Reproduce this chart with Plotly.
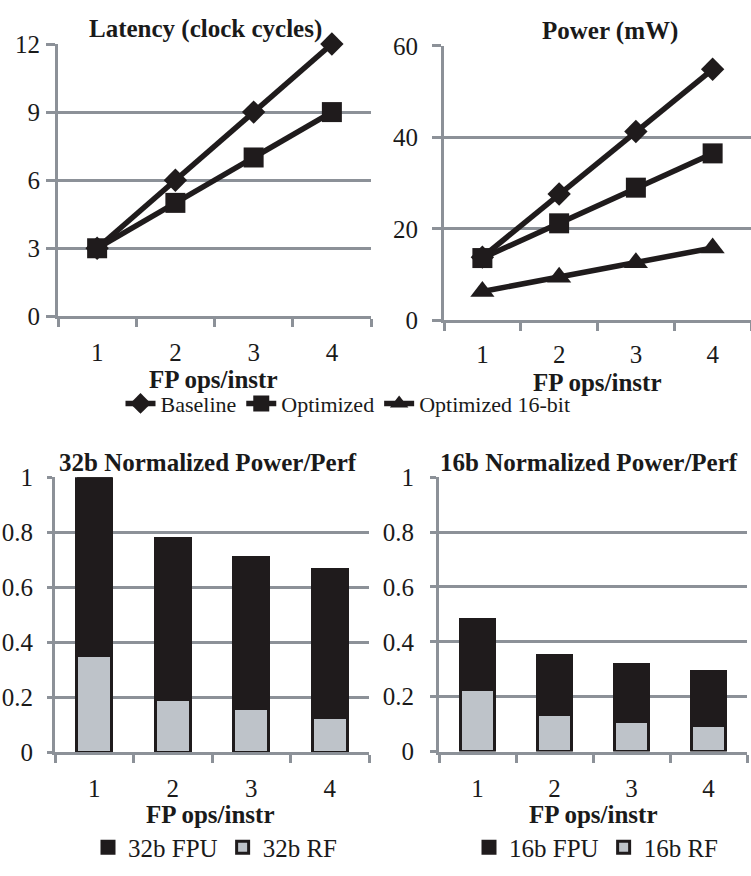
import plotly.graph_objects as go

# ---------------- data ----------------
categories = ["1", "2", "3", "4"]

latency_baseline = [3, 6, 9, 12]
latency_optimized = [3, 5, 7, 9]

power_baseline = [13.8, 27.6, 41.3, 54.9]
power_optimized = [13.6, 21.2, 29.0, 36.5]
power_opt16 = [6.3, 9.4, 12.6, 15.8]

rf32 = [0.352, 0.192, 0.158, 0.127]
total32 = [1.0, 0.778, 0.708, 0.665]
rf16 = [0.226, 0.134, 0.110, 0.095]
total16 = [0.48, 0.35, 0.318, 0.29]

fpu32 = [t - r for t, r in zip(total32, rf32)]
fpu16 = [t - r for t, r in zip(total16, rf16)]

latency_ticks = [0, 3, 6, 9, 12]
power_ticks = [0, 20, 40, 60]
norm_ticks = [0, 0.2, 0.4, 0.6, 0.8, 1]
norm_ticktext = ["0", "0.2", "0.4", "0.6", "0.8", "1"]

# ---------------- style ----------------
W, H = 751, 876
FONT = "Liberation Serif"
TXT = "#1a1a1a"
GRID = "#8c9198"
BLACK = "#1f1b1c"
LIGHT = "#bec3c9"


def py(y):
    return 1 - y / H


def px(x):
    return x / W


fig = go.Figure()

line_kw = dict(mode="lines+markers", line=dict(color=BLACK, width=5.5), cliponaxis=False)

fig.add_trace(go.Scatter(x=categories, y=latency_baseline, name="Baseline",
                         marker=dict(symbol="diamond", size=18, color=BLACK),
                         xaxis="x", yaxis="y", legend="legend", **line_kw))
fig.add_trace(go.Scatter(x=categories, y=latency_optimized, name="Optimized",
                         marker=dict(symbol="square", size=20, color=BLACK),
                         xaxis="x", yaxis="y", legend="legend", **line_kw))
fig.add_trace(go.Scatter(x=categories, y=power_baseline, name="Baseline", showlegend=False,
                         marker=dict(symbol="diamond", size=18, color=BLACK),
                         xaxis="x2", yaxis="y2", **line_kw))
fig.add_trace(go.Scatter(x=categories, y=power_optimized, name="Optimized", showlegend=False,
                         marker=dict(symbol="square", size=20, color=BLACK),
                         xaxis="x2", yaxis="y2", **line_kw))
fig.add_trace(go.Scatter(x=categories, y=power_opt16, name="Optimized 16-bit",
                         marker=dict(symbol="triangle-up", size=21, color=BLACK),
                         xaxis="x2", yaxis="y2", legend="legend", **line_kw))

bar_line = dict(color=BLACK, width=3)
fig.add_trace(go.Bar(x=categories, y=rf32, name="32b RF", marker=dict(color=LIGHT, line=bar_line),
                     xaxis="x3", yaxis="y3", legend="legend2"))
fig.add_trace(go.Bar(x=categories, y=fpu32, name="32b FPU", marker=dict(color=BLACK, line=bar_line),
                     xaxis="x3", yaxis="y3", legend="legend2"))
fig.add_trace(go.Bar(x=categories, y=rf16, name="16b RF", marker=dict(color=LIGHT, line=bar_line),
                     xaxis="x4", yaxis="y4", legend="legend3"))
fig.add_trace(go.Bar(x=categories, y=fpu16, name="16b FPU", marker=dict(color=BLACK, line=bar_line),
                     xaxis="x4", yaxis="y4", legend="legend3"))


def xax(domain, anchor, standoff=12):
    return dict(domain=domain, anchor=anchor, type="category", range=[-0.5, 3.5],
                showgrid=False, zeroline=False, showline=True, linecolor=GRID, linewidth=3,
                ticks="outside", tickson="boundaries", ticklen=8, tickwidth=3, tickcolor=GRID,
                ticklabelstandoff=standoff,
                tickfont=dict(family=FONT, size=25, color=TXT), fixedrange=True)


def yax(domain, anchor, rng, tickvals, ticklen, standoff, ticktext=None):
    d = dict(domain=domain, anchor=anchor, range=rng, tickmode="array", tickvals=tickvals,
             showgrid=True, gridcolor=GRID, gridwidth=3, zeroline=False,
             showline=True, linecolor=GRID, linewidth=3,
             ticks="outside", ticklen=ticklen, tickwidth=3, tickcolor=GRID,
             ticklabelstandoff=standoff,
             tickfont=dict(family=FONT, size=25, color=TXT), fixedrange=True)
    if ticktext is not None:
        d["ticktext"] = ticktext
    return d


legend_common = dict(orientation="h", xanchor="center", yanchor="middle",
                     bgcolor="rgba(0,0,0,0)", traceorder="normal",
                     font=dict(family=FONT, size=22, color=TXT))
legend_bar = {**legend_common, "traceorder": "reversed",
              "font": dict(family=FONT, size=25, color=TXT)}

fig.update_layout(
    width=W, height=H, margin=dict(l=0, r=0, t=0, b=0),
    paper_bgcolor="white", plot_bgcolor="white",
    barmode="stack", bargap=0.55,
    font=dict(family=FONT, color=TXT),
    xaxis=xax([px(58), px(371)], "y"),
    yaxis=yax([py(313), py(32)], "x", [0, 12], latency_ticks, 9, 1),
    xaxis2=xax([px(444), 1.0], "y2", 10),
    yaxis2=yax([py(317), py(34)], "x2", [0, 60], power_ticks, 9, 9),
    xaxis3=xax([px(55), px(369)], "y3"),
    yaxis3=yax([py(763), py(479)], "x3", [0, 1], norm_ticks, 5, 9, norm_ticktext),
    xaxis4=xax([px(439), px(747)], "y4"),
    yaxis4=yax([py(762), py(479)], "x4", [0, 1], norm_ticks, 6, 11, norm_ticktext),
    legend=dict(x=px(348), y=py(403), **legend_common),
    legend2=dict(x=px(215), y=py(861), **legend_bar),
    legend3=dict(x=px(596), y=py(861), **legend_bar),
)

titles = [
    ("Latency (clock cycles)", 205, 17),
    ("Power (mW)", 610, 19),
    ("32b Normalized Power/Perf", 208, 464),
    ("16b Normalized Power/Perf", 589, 464),
]
for text, x, y in titles:
    fig.add_annotation(text=f"<b>{text}</b>", x=px(x), y=py(y), xref="paper", yref="paper",
                       xanchor="center", yanchor="middle", showarrow=False,
                       font=dict(family=FONT, size=25, color=TXT))

axis_titles = [(214, 378), (597, 381), (210, 827), (593, 827)]
for x, y in axis_titles:
    fig.add_annotation(text="<b>FP ops/instr</b>", x=px(x), y=py(y), xref="paper", yref="paper",
                       xanchor="center", yanchor="middle", showarrow=False,
                       font=dict(family=FONT, size=25, color=TXT))

fig.write_html("out.html",
               config={"displayModeBar": False},
               post_script="document.body.style.margin='0';document.body.style.padding='0';"
                           "document.body.style.overflow='hidden';")
